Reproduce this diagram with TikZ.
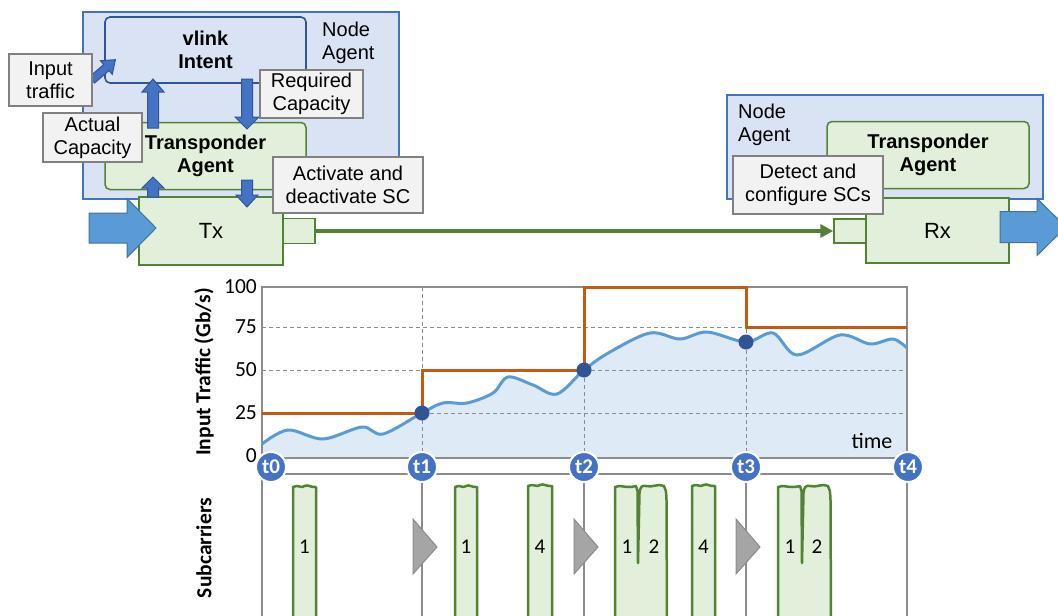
\documentclass[tikz,border=0pt]{standalone}
\usepackage{fontspec}
\setmainfont{Liberation Sans}
\newfontfamily\calfont{Carlito}
\usetikzlibrary{arrows.meta}

\definecolor{agentfill}{HTML}{DAE3F3}
\definecolor{agentline}{HTML}{4472C4}
\definecolor{intentline}{HTML}{2F5597}
\definecolor{trfill}{HTML}{E2EFDA}
\definecolor{trline}{HTML}{548235}
\definecolor{notefill}{HTML}{F2F2F2}
\definecolor{noteline}{HTML}{808080}
\definecolor{bigblue}{HTML}{5B9BD5}
\definecolor{bigblueline}{HTML}{41719C}
\definecolor{capline}{HTML}{C55A11}
\definecolor{trafline}{HTML}{5B9BD5}
\definecolor{traffill}{HTML}{DEEBF7}
\definecolor{gridgray}{HTML}{8C8C8C}
\definecolor{framegray}{HTML}{8C8C8C}
\definecolor{markfill}{HTML}{A5A5A5}
\definecolor{markline}{HTML}{8C8C8C}

\tikzset{
  agentbox/.style={draw=agentline, fill=agentfill, line width=1.5pt, inner sep=0pt},
  intentbox/.style={draw=intentline, fill=agentfill, line width=1.6pt, rounded corners=5pt,
    inner sep=0pt, align=center, font=\bfseries\fontsize{20}{23}\selectfont},
  greenbox/.style={draw=trline, fill=trfill, line width=1.5pt, inner sep=0pt, align=center},
  agenttitle/.style={greenbox, rounded corners=5pt, font=\bfseries\fontsize{20}{23}\selectfont},
  notebox/.style={draw=noteline, fill=notefill, line width=2pt, inner sep=0pt, align=center,
    font=\fontsize{20}{23}\selectfont},
  blockarrow/.style={fill=agentline, draw=intentline, line width=1pt, line join=miter},
  bigarrow/.style={fill=bigblue, draw=bigblueline, line width=1pt},
  fiber/.style={draw=trline, line width=4pt},
  plainlabel/.style={inner sep=0pt, align=left, font=\fontsize{20}{23}\selectfont},
  axisnum/.style={inner sep=0pt, anchor=east, font=\calfont\fontsize{21.5}{24}\selectfont},
  axistitle/.style={inner sep=0pt, rotate=90, font=\calfont\bfseries\fontsize{21.5}{24}\selectfont},
  gridline/.style={draw=gridgray, line width=1pt, dash pattern=on 4pt off 3pt},
  panelframe/.style={draw=framegray, line width=2pt},
  capstep/.style={draw=capline, line width=3pt},
  traffic/.style={draw=trafline, line width=3pt},
  opdot/.style={circle, fill=intentline, inner sep=0pt, minimum size=15pt},
  tmark/.style={circle, fill=agentline, draw=white, line width=2pt, inner sep=0pt,
    minimum size=30pt, text=white, font=\calfont\bfseries\fontsize{21}{22}\selectfont},
  scbar/.style={draw=trline, fill=trfill, line width=2.5pt, line join=round},
  scnum/.style={inner sep=0pt, font=\calfont\fontsize{21}{24}\selectfont},
  tri/.style={fill=markfill, draw=markline, line width=1pt},
}

% vertical block arrow: x, tail y, head-base y, tip y, shaft half width, head half width
\newcommand{\varrow}[6]{%
  \filldraw[blockarrow] ({#1-#5},#2) -- ({#1-#5},#3) -- ({#1-#6},#3) -- (#1,#4)
    -- ({#1+#6},#3) -- ({#1+#5},#3) -- ({#1+#5},#2) -- cycle;}
% horizontal block arrow: tail x, head-base x, tip x, y, shaft half width, head half width
\newcommand{\harrow}[6]{%
  \filldraw[bigarrow] (#1,{#4-#5}) -- (#2,{#4-#5}) -- (#2,{#4-#6}) -- (#3,#4)
    -- (#2,{#4+#6}) -- (#2,{#4+#5}) -- (#1,{#4+#5}) -- cycle;}
% single subcarrier: left, right, top
\newcommand{\scsingle}[3]{%
  \filldraw[scbar] (#1,622) -- (#1,{#3+1})
    .. controls ({#1+0.25*(#2-#1)},{#3-2}) and ({#1+0.35*(#2-#1)},{#3+3}) .. ({(#1+#2)/2},{#3})
    .. controls ({#1+0.65*(#2-#1)},{#3-2}) and ({#1+0.8*(#2-#1)},{#3+2}) .. (#2,{#3+1})
    -- (#2,622);}
% pair of adjacent subcarriers: left, notch, right, top, notch bottom
\newcommand{\scdouble}[5]{%
  \filldraw[scbar] (#1,622) -- (#1,{#4+1})
    .. controls ({#1+6},{#4-2}) and ({#1+10},{#4+3}) .. ({#2-2},{#4})
    -- ({#2-0.5},{#4+5}) -- (#2,#5) -- ({#2+1.5},{#4+7})
    .. controls ({#2+2},{#4+1}) and ({#2+4},{#4-1}) .. ({#2+8},{#4})
    .. controls ({#2+14},{#4+2}) and ({#3-9},{#4-3}) .. ({#3-3},{#4})
    .. controls ({#3-1},{#4+4}) .. ({#3-0.5},{#4+14}) -- (#3,622);}

\begin{document}
\begin{tikzpicture}[x=1pt,y=-1pt]
\useasboundingbox (0,0) rectangle (1058,616);
\clip (0,0) rectangle (1058,616);
\fill[white] (0,0) rectangle (1058,616);

% ---------- transmitter side ----------
\node[agentbox, minimum width=316pt, minimum height=187pt] (nodeL) at (241,105.5) {};
\node[plainlabel, anchor=north west] (nodeLtxt) at (322,22) {Node\\Agent};
\node[intentbox, minimum width=201pt, minimum height=66pt] (intent) at (205.5,50) {vlink\\Intent};
\node[agenttitle, minimum width=201pt, minimum height=67pt] (trL) at (205.5,156) {Transponder\\Agent};
\node[greenbox, minimum width=144pt, minimum height=68pt, font=\fontsize{22}{24}\selectfont] (tx) at (211,231) {Tx};
\node[greenbox, minimum width=32pt, minimum height=25pt] (txport) at (299,231) {};

% control arrows between agents and transmitter
\varrow{153}{128}{92}{79}{5.5}{11}
\varrow{247}{79}{117}{129}{5.5}{12}
\varrow{153}{197}{188}{177}{5.5}{11}
\varrow{247}{180}{195}{207}{5.5}{11}
\begin{scope}[shift={(92,80)}, rotate=41]
  \filldraw[blockarrow] (0,-4) -- (19,-4) -- (19,-9) -- (31,0) -- (19,9) -- (19,4) -- (0,4) -- cycle;
\end{scope}

% traffic entering the transmitter
\harrow{89}{127}{156}{228}{15}{29.5}

% annotations
\node[notebox, minimum width=83pt, minimum height=52pt] (inputnote) at (50.5,80) {Input\\traffic};
\node[notebox, minimum width=99pt, minimum height=49pt] (actualnote) at (92.5,137.5) {Actual\\Capacity};
\node[notebox, minimum width=103pt, minimum height=48pt] (requirednote) at (311.5,94) {Required\\Capacity};
\node[notebox, minimum width=150pt, minimum height=56pt] (activatenote) at (348,185) {Activate and\\deactivate SC};

% ---------- receiver side ----------
\node[agentbox, minimum width=316pt, minimum height=104pt] (nodeR) at (885,147) {};
\node[plainlabel, anchor=north west] (nodeRtxt) at (738,104) {Node\\Agent};
\node[agenttitle, minimum width=202pt, minimum height=67pt] (trR) at (928,155) {Transponder\\Agent};
\node[greenbox, minimum width=143pt, minimum height=65pt, font=\fontsize{22}{24}\selectfont] (rx) at (937.5,230.5) {Rx};
\node[greenbox, minimum width=32pt, minimum height=24pt] (rxport) at (850,231) {};
\harrow{1000}{1037}{1066}{227}{15.5}{28.5}
\node[notebox, minimum width=150pt, minimum height=58pt] (detectnote) at (808,185) {Detect and\\configure SCs};

% optical link
\draw[fiber, -{Triangle[length=13pt,width=13pt]}] (txport.east) -- (rxport.west);

% ---------- input traffic chart ----------
\fill[traffill] (262,458) -- plot[smooth, tension=0.55] coordinates {
  (262,444) (288,430) (323,439) (362,427) (383,434) (422,413) (443,403) (467,403)
  (493,393) (508,377) (533,385) (557,394) (584,370) (610,352) (650,333) (680,339)
  (707,332) (746,342) (773,333) (797,355) (840,335) (870,344) (893,339) (907,348)}
  -- (907,458) -- cycle;
\foreach \yy in {327,370,413} \draw[gridline] (262,\yy) -- (907,\yy);
\foreach \xx in {422,584,746} \draw[gridline] (\xx,287) -- (\xx,458);
\draw[panelframe] (262,287) rectangle (907,458);

\node[axisnum] (y100) at (257,287) {100};
\node[axisnum] (y75) at (257,327) {75};
\node[axisnum] (y50) at (257,370) {50};
\node[axisnum] (y25) at (257,413) {25};
\node[axisnum] (y0) at (257,456) {0};
\node[axistitle] (ytitle) at (204,372) {Input Traffic (Gb/s)};
\node[scnum, font=\calfont\fontsize{22}{24}\selectfont] (timelbl) at (872,441) {time};

\draw[capstep] (262,413) -| (422,370) -| (584,287) -| (746,327) -- (907,327);
\draw[traffic] plot[smooth, tension=0.55] coordinates {
  (262,444) (288,430) (323,439) (362,427) (383,434) (422,413) (443,403) (467,403)
  (493,393) (508,377) (533,385) (557,394) (584,370) (610,352) (650,333) (680,339)
  (707,332) (746,342) (773,333) (797,355) (840,335) (870,344) (893,339) (907,348)};
\node[opdot] (d1) at (422,413) {};
\node[opdot] (d2) at (584,370) {};
\node[opdot] (d3) at (746,342) {};

% ---------- subcarrier panel ----------
\draw[panelframe] (262,474) -- (907,474);
\foreach \xx in {262,422,584,746,907} \draw[panelframe] (\xx,474) -- (\xx,622);

\scsingle{293}{316}{486}
\scsingle{455}{477}{486}
\scsingle{528}{552}{485}
\scdouble{615}{638}{667}{486}{563}
\scsingle{692}{715}{485}
\scdouble{778}{802}{831}{486}{563}

\node[scnum] (sc1a) at (304.5,547) {1};
\node[scnum] (sc1b) at (466,547) {1};
\node[scnum] (sc4b) at (540,547) {4};
\node[scnum] (sc1c) at (627,547) {1};
\node[scnum] (sc2c) at (654,547) {2};
\node[scnum] (sc4c) at (703.5,547) {4};
\node[scnum] (sc1d) at (790,547) {1};
\node[scnum] (sc2d) at (817,547) {2};

\filldraw[tri] (413,519) -- (437,547) -- (413,574) -- cycle;
\filldraw[tri] (574,519) -- (598,547) -- (574,574) -- cycle;
\filldraw[tri] (736,519) -- (760,547) -- (736,574) -- cycle;

\node[axistitle] (sctitle) at (204,548) {Subcarriers};

% time instants
\node[tmark] (t0) at (271,467) {t0};
\node[tmark] (t1) at (422,467) {t1};
\node[tmark] (t2) at (584,467) {t2};
\node[tmark] (t3) at (746,467) {t3};
\node[tmark] (t4) at (908,467) {t4};
\end{tikzpicture}
\end{document}
